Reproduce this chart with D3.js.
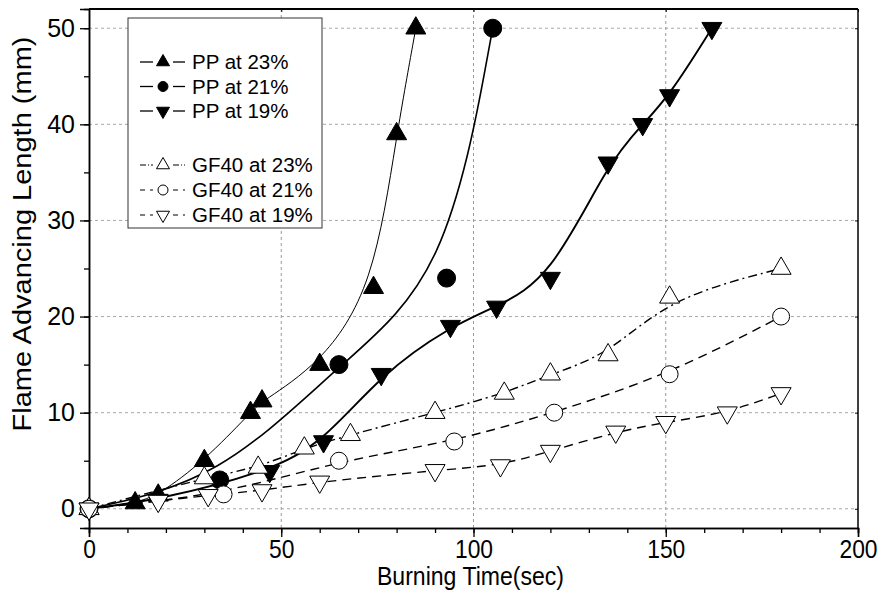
<!DOCTYPE html>
<html>
<head>
<meta charset="utf-8">
<script src="https://cdn.jsdelivr.net/npm/d3@7"></script>
<style>
  body { margin: 0; background: #fff; }
  text { font-family: Arial, "Liberation Sans", sans-serif; fill: #000; }
  .axis path, .axis line { stroke: #000; }
</style>
</head>
<body>
<div id="chart"></div>
<script>

// flame advancing length (mm) against burning time (sec)
var pp23 = [[0, 0], [12, 0.6], [18, 1.4], [30, 5], [42, 10], [45, 11.2], [60, 15], [74, 23], [80, 39], [85, 50]];
var pp21 = [[0, 0], [34, 3], [65, 15], [93, 24], [105, 50]];
var pp19 = [[0, 0], [18, 0.9], [47, 3.9], [61, 7], [76, 14], [94, 19], [106, 21], [120, 24], [135, 36], [144, 40], [151, 43], [162, 50]];
var gf23 = [[0, 0], [30, 3.2], [44, 4.3], [56, 6.3], [68, 7.7], [90, 10], [108, 12], [120, 14], [135, 16], [151, 22], [180, 25]];
var gf21 = [[0, 0], [35, 1.5], [65, 5], [95, 7], [121, 10], [151, 14], [180, 20]];
var gf19 = [[0, 0], [18, 0.8], [31, 1.4], [45, 1.9], [60, 2.8], [90, 4], [107, 4.5], [120, 6], [137, 8], [150, 9], [166, 10], [180, 12]];

var series_names = ["PP at 23%", "PP at 21%", "PP at 19%", "GF40 at 23%", "GF40 at 21%", "GF40 at 19%"];

// tick values
var x_major = [0, 50, 100, 150, 200];
var x_minor = d3.range(0, 201, 10);
var y_major = [0, 10, 20, 30, 40, 50];
var y_minor = d3.range(0, 51, 5);

// size of the plot
var margin = {top: 9, right: 23, bottom: 77, left: 89},
    width = 881 - margin.left - margin.right,
    height = 605 - margin.top - margin.bottom;

var x = d3.scaleLinear().domain([0, 200]).range([0, width]);
var y = d3.scaleLinear().domain([-2, 52]).range([height, 0]);

// how every series is drawn
var series = [
  {name: series_names[0], data: pp23, shape: "up",     fill: "#000", dash: null,        lw: 1.0},
  {name: series_names[1], data: pp21, shape: "circle", fill: "#000", dash: null,        lw: 1.6},
  {name: series_names[2], data: pp19, shape: "down",   fill: "#000", dash: null,        lw: 1.9},
  {name: series_names[3], data: gf23, shape: "up",     fill: "#fff", dash: "9,4,2,4",   lw: 1.4},
  {name: series_names[4], data: gf21, shape: "circle", fill: "#fff", dash: "9,6",       lw: 1.4},
  {name: series_names[5], data: gf19, shape: "down",   fill: "#fff", dash: "9,6",       lw: 1.4}
];

function marker(shape, w) {
  // w is the width of the marker in px
  if (shape == "circle") {
    return d3.symbol().type(d3.symbolCircle).size(Math.PI * w * w / 4)();
  }
  return d3.symbol().type(d3.symbolTriangle).size(Math.sqrt(3) / 4 * w * w)();
}

var svg = d3.select("#chart").append("svg")
    .attr("width", 881)
    .attr("height", 605);

var g = svg.append("g")
    .attr("transform", "translate(" + margin.left + "," + margin.top + ")");

// grid lines
g.selectAll(".hgrid").data(y_major).enter().append("line")
    .attr("class", "hgrid")
    .attr("x1", 0).attr("x2", width)
    .attr("y1", function(d) { return y(d); })
    .attr("y2", function(d) { return y(d); })
    .style("stroke", "#a8a8a8")
    .style("stroke-width", 1)
    .style("stroke-dasharray", "3,3");

g.selectAll(".vgrid").data(x_major.slice(1, 4)).enter().append("line")
    .attr("class", "vgrid")
    .attr("y1", 0).attr("y2", height)
    .attr("x1", function(d) { return x(d); })
    .attr("x2", function(d) { return x(d); })
    .style("stroke", "#999")
    .style("stroke-width", 1)
    .style("stroke-dasharray", "3,3");

// frame: top and right
g.append("line").attr("x1", 0).attr("x2", width).attr("y1", 0).attr("y2", 0)
    .style("stroke", "#000").style("stroke-width", 2);
g.append("line").attr("x1", width).attr("x2", width).attr("y1", 0).attr("y2", height)
    .style("stroke", "#000").style("stroke-width", 1.5);

// small inner ticks on top and right
g.append("g").attr("class", "axis")
    .call(d3.axisTop(x).tickValues(x_major).tickSize(-3).tickFormat(""))
    .select(".domain").remove();
g.append("g").attr("class", "axis")
    .attr("transform", "translate(" + width + ",0)")
    .call(d3.axisRight(y).tickValues(y_major).tickSize(-3).tickFormat(""))
    .select(".domain").remove();

// x axis
var x_axis = g.append("g").attr("class", "axis")
    .attr("transform", "translate(0," + height + ")");
x_axis.call(d3.axisBottom(x).tickValues(x_minor).tickSize(5).tickFormat(""));
x_axis.append("g")
    .call(d3.axisBottom(x).tickValues(x_major).tickSize(9).tickPadding(3).tickFormat(d3.format("d")))
    .selectAll("text")
    .style("font-size", "25px")
    .attr("textLength", function(d) { return String(d).length * 12.7; })
    .attr("lengthAdjust", "spacingAndGlyphs");
x_axis.selectAll(".domain").style("stroke-width", 1.5);
x_axis.selectAll("line").style("stroke-width", 1.3);

// y axis
var y_axis = g.append("g").attr("class", "axis");
y_axis.call(d3.axisLeft(y).tickValues(y_minor).tickSize(5).tickFormat(""));
y_axis.append("g")
    .call(d3.axisLeft(y).tickValues(y_major).tickSize(9).tickPadding(5).tickFormat(d3.format("d")))
    .selectAll("text")
    .style("font-size", "25px");
y_axis.selectAll(".domain").style("stroke-width", 1.5);
y_axis.selectAll("line").style("stroke-width", 1.3);

// axis titles
svg.append("text")
    .attr("x", margin.left + width / 2 - 3)
    .attr("y", 585)
    .attr("text-anchor", "middle")
    .attr("textLength", 187)
    .attr("lengthAdjust", "spacingAndGlyphs")
    .style("font-size", "25px")
    .text("Burning Time(sec)");

svg.append("text")
    .attr("transform", "translate(31,234) rotate(-90)")
    .attr("text-anchor", "middle")
    .attr("textLength", 395)
    .attr("lengthAdjust", "spacingAndGlyphs")
    .style("font-size", "25px")
    .text("Flame Advancing Length (mm)");

// lines, smooth like the original B-spline
var line = d3.line()
    .x(function(d) { return x(d[0]); })
    .y(function(d) { return y(d[1]); })
    .curve(d3.curveBasis);

series.forEach(function(s) {
  g.append("path")
      .datum(s.data)
      .attr("d", line)
      .style("fill", "none")
      .style("stroke", "#000")
      .style("stroke-width", s.lw)
      .style("stroke-dasharray", s.dash);
});

// markers
series.forEach(function(s) {
  var w = s.shape == "circle" ? (s.fill == "#000" ? 18 : 17) : 20;
  g.selectAll(null).data(s.data).enter().append("path")
      .attr("d", marker(s.shape, w))
      .attr("transform", function(d) {
        return "translate(" + x(d[0]) + "," + y(d[1]) + ")" + (s.shape == "down" ? " rotate(180)" : "");
      })
      .style("fill", s.fill)
      .style("stroke", "#000")
      .style("stroke-width", 1);
});

// legend
var legend = svg.append("g").attr("transform", "translate(128,18)");
legend.append("rect")
    .attr("width", 194)
    .attr("height", 210)
    .style("fill", "#fff")
    .style("stroke", "#333")
    .style("stroke-width", 1);

series.forEach(function(s, i) {
  var ly = i < 3 ? 44 + i * 24.5 : 147 + (i - 3) * 25;
  var item = legend.append("g").attr("transform", "translate(0," + ly + ")");
  [[12, 25], [45, 57]].forEach(function(seg) {
    item.append("line")
        .attr("x1", seg[0]).attr("x2", seg[1])
        .style("stroke", "#000")
        .style("stroke-width", s.fill == "#000" ? 1.3 : 1)
        .style("stroke-dasharray", s.fill == "#000" ? null : (i == 3 ? "6,2,1,2" : "5,5"));
  });
  item.append("path")
      .attr("d", marker(s.shape, s.shape == "circle" ? 10 : 13))
      .attr("transform", "translate(35,0)" + (s.shape == "down" ? " rotate(180)" : ""))
      .style("fill", s.fill)
      .style("stroke", "#000")
      .style("stroke-width", 1);
  item.append("text")
      .attr("x", 64)
      .attr("dy", "0.36em")
      .style("font-size", "20.5px")
      .text(s.name);
});

</script>
</body>
</html>
